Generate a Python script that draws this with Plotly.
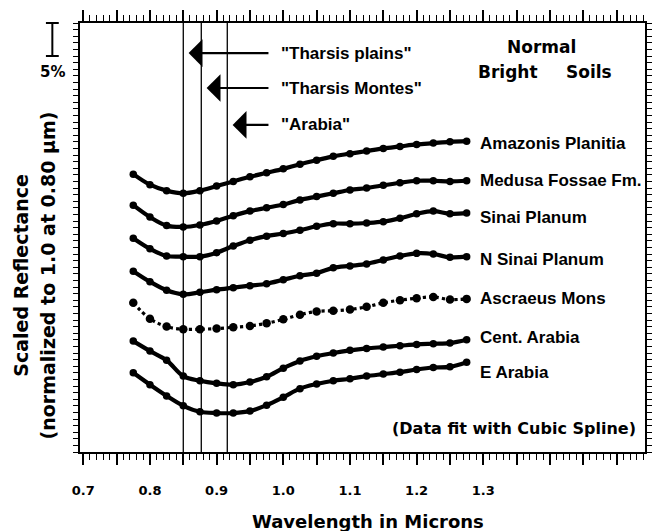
import plotly.graph_objects as go

# ---------------- data ----------------
wavelength = [0.775, 0.800, 0.825, 0.850, 0.875, 0.900, 0.925, 0.950, 0.975, 1.000,
              1.025, 1.050, 1.075, 1.100, 1.125, 1.150, 1.175, 1.200, 1.225, 1.250, 1.275]

amazonis_planitia = [0.421, 0.405, 0.396, 0.392, 0.396, 0.403, 0.410, 0.417, 0.423, 0.429,
                     0.436, 0.442, 0.448, 0.452, 0.456, 0.460, 0.463, 0.466, 0.468, 0.470, 0.471]
medusa_fossae = [0.374, 0.356, 0.343, 0.341, 0.344, 0.350, 0.358, 0.365, 0.370, 0.375,
                 0.382, 0.387, 0.392, 0.397, 0.400, 0.404, 0.408, 0.411, 0.411, 0.410, 0.411]
sinai_planum = [0.324, 0.308, 0.297, 0.296, 0.296, 0.302, 0.312, 0.321, 0.327, 0.331,
                0.336, 0.342, 0.346, 0.346, 0.347, 0.349, 0.354, 0.361, 0.365, 0.361, 0.362]
n_sinai_planum = [0.274, 0.258, 0.245, 0.239, 0.242, 0.246, 0.249, 0.252, 0.255, 0.261,
                  0.267, 0.271, 0.279, 0.282, 0.285, 0.291, 0.297, 0.301, 0.300, 0.295, 0.296]
ascraeus_mons = [0.226, 0.202, 0.190, 0.186, 0.186, 0.187, 0.189, 0.191, 0.195, 0.201,
                 0.208, 0.213, 0.214, 0.216, 0.220, 0.226, 0.230, 0.233, 0.235, 0.231, 0.232]
cent_arabia = [0.168, 0.153, 0.139, 0.115, 0.108, 0.104, 0.102, 0.106, 0.114, 0.127,
               0.138, 0.145, 0.150, 0.154, 0.157, 0.159, 0.161, 0.163, 0.164, 0.165, 0.170]
e_arabia = [0.120, 0.102, 0.085, 0.070, 0.061, 0.059, 0.059, 0.062, 0.071, 0.083,
            0.096, 0.103, 0.108, 0.111, 0.115, 0.118, 0.121, 0.125, 0.128, 0.129, 0.136]

series_names = ["Amazonis Planitia", "Medusa Fossae Fm.", "Sinai Planum", "N Sinai Planum",
                "Ascraeus Mons", "Cent. Arabia", "E Arabia"]
series_values = [amazonis_planitia, medusa_fossae, sinai_planum, n_sinai_planum,
                 ascraeus_mons, cent_arabia, e_arabia]
label_y = [0.468, 0.412, 0.355, 0.292, 0.232, 0.174, 0.121]

band_names = ['"Tharsis plains"', '"Tharsis Montes"', '"Arabia"']
band_wavelengths = [0.850, 0.877, 0.916]
band_label_y = [0.6045, 0.5515, 0.4955]

x_tick_labels = ["0.7", "0.8", "0.9", "1.0", "1.1", "1.2", "1.3"]

# ---------------- figure ----------------
X_RANGE = [0.6951, 1.5425]
Y_RANGE = [0.0, 0.65]

fig = go.Figure()

for name, vals in zip(series_names, series_values):
    dotted = name == "Ascraeus Mons"
    fig.add_trace(go.Scatter(
        x=wavelength, y=vals, mode="lines+markers", name=name,
        line=dict(color="black", width=3.2 if dotted else 4.2,
                  dash="dot" if dotted else "solid", shape="spline", smoothing=1),
        marker=dict(color="black", size=8.5 if dotted else 7.5),
        showlegend=False, cliponaxis=False,
    ))

annotations = []
shapes = []

label_font = dict(family="Liberation Sans, Arial", size=17, color="black", weight="bold")

# site labels
for name, ly in zip(series_names, label_y):
    annotations.append(dict(x=1.292, y=ly, xref="x", yref="y", text=name, showarrow=False,
                            xanchor="left", yanchor="middle", font=label_font))

# absorption band lines, arrows and labels
for bname, bw, by in zip(band_names, band_wavelengths, band_label_y):
    shapes.append(dict(type="line", xref="x", yref="paper", x0=bw, x1=bw, y0=0, y1=1,
                       line=dict(color="black", width=1.3)))
    annotations.append(dict(x=bw + 0.008, y=by, xref="x", yref="y", ax=0.98, ay=by,
                            axref="x", ayref="y", text="", showarrow=True, arrowhead=1,
                            arrowsize=2.1, arrowwidth=2.2, arrowcolor="black", standoff=0))
    annotations.append(dict(x=0.994, y=by, xref="x", yref="y", text=bname, showarrow=False,
                            xanchor="left", yanchor="middle", font=label_font))

bold = dict(family="DejaVu Sans", color="black", weight="bold")

annotations.append(dict(x=1.387, y=0.614, xref="x", yref="y", text="Normal", showarrow=False,
                        xanchor="center", yanchor="middle", font=dict(bold, size=17)))
annotations.append(dict(x=1.3366, y=0.576, xref="x", yref="y", text="Bright", showarrow=False,
                        xanchor="center", yanchor="middle", font=dict(bold, size=17)))
annotations.append(dict(x=1.458, y=0.576, xref="x", yref="y", text="Soils", showarrow=False,
                        xanchor="center", yanchor="middle", font=dict(bold, size=17)))
annotations.append(dict(x=1.532, y=0.036, xref="x", yref="y", text="(Data fit with Cubic Spline)",
                        showarrow=False, xanchor="right", yanchor="middle",
                        font=dict(bold, size=16)))

# axis titles as annotations
W, H = 658, 531
ML, MR, MT, MB = 80, 6, 23, 79
PW, PH = W - ML - MR, H - MT - MB

def px_to_paper_x(px):
    return (px - ML) / PW

def px_to_paper_y(py):
    return (H - MB - py) / PH

annotations.append(dict(x=px_to_paper_x(372), y=px_to_paper_y(521), xref="paper", yref="paper",
                        text="Wavelength in Microns", showarrow=False,
                        xanchor="center", yanchor="middle", font=dict(bold, size=18)))
annotations.append(dict(x=px_to_paper_x(20), y=px_to_paper_y(275), xref="paper", yref="paper",
                        text="Scaled Reflectance", showarrow=False, textangle=-90,
                        xanchor="center", yanchor="middle", font=dict(bold, size=19)))
annotations.append(dict(x=px_to_paper_x(48), y=px_to_paper_y(275), xref="paper", yref="paper",
                        text="(normalized to 1.0 at 0.80 \u00b5m)", showarrow=False, textangle=-90,
                        xanchor="center", yanchor="middle", font=dict(bold, size=19)))

# 5% scale bar (0.05 in y units)
bar_top = Y_RANGE[1]
bar_bot = Y_RANGE[1] - 0.05
def yv_to_paper(v):
    return (v - Y_RANGE[0]) / (Y_RANGE[1] - Y_RANGE[0])
bx = px_to_paper_x(52)
cap = 6.5 / PW
shapes.append(dict(type="line", xref="paper", yref="paper", x0=bx, x1=bx,
                   y0=yv_to_paper(bar_bot), y1=yv_to_paper(bar_top), line=dict(color="black", width=2)))
for v in (bar_bot, bar_top):
    shapes.append(dict(type="line", xref="paper", yref="paper", x0=bx - cap, x1=bx + cap,
                       y0=yv_to_paper(v), y1=yv_to_paper(v), line=dict(color="black", width=2)))
annotations.append(dict(x=bx, y=px_to_paper_y(72), xref="paper", yref="paper", text="5%",
                        showarrow=False, xanchor="center", yanchor="middle",
                        font=dict(bold, size=15)))

major_x = [round(0.70 + 0.05 * i, 2) for i in range(17)]
tenth_labels = {float(t): t for t in x_tick_labels}
major_text = [tenth_labels.get(v, "") for v in major_x]

fig.update_layout(
    width=W, height=H,
    margin=dict(l=ML, r=MR, t=MT, b=MB),
    paper_bgcolor="white", plot_bgcolor="white",
    showlegend=False,
    annotations=annotations, shapes=shapes,
    xaxis=dict(range=X_RANGE, showgrid=False, zeroline=False,
               showline=True, linecolor="black", linewidth=2, mirror="allticks",
               ticks="outside", ticklen=11, tickwidth=1.5, tickcolor="black",
               tickmode="array", tickvals=major_x, ticktext=major_text,
               tickfont=dict(bold, size=13), ticklabelstandoff=14,
               minor=dict(tickmode="linear", tick0=0.70, dtick=0.01, ticks="outside",
                          ticklen=6, tickwidth=1.2, tickcolor="black", showgrid=False)),
    # short ticks every 0.01 on the main y axis
    yaxis=dict(range=Y_RANGE, showgrid=False, zeroline=False, showticklabels=False,
               showline=True, linecolor="black", linewidth=2, mirror="allticks",
               ticks="outside", ticklen=5, tickwidth=1.2, tickcolor="black",
               tickmode="linear", tick0=0, dtick=0.01),
    # long ticks every 0.05 on an overlaid y axis
    yaxis2=dict(range=Y_RANGE, overlaying="y", anchor="x", side="left",
                showgrid=False, zeroline=False, showticklabels=False, showline=False,
                mirror="allticks", ticks="outside", ticklen=11, tickwidth=1.5,
                tickcolor="black", tickmode="linear", tick0=0, dtick=0.05),
)

fig.write_html("out.html", config={"displayModeBar": False},
               post_script="document.body.style.margin='0px';")
